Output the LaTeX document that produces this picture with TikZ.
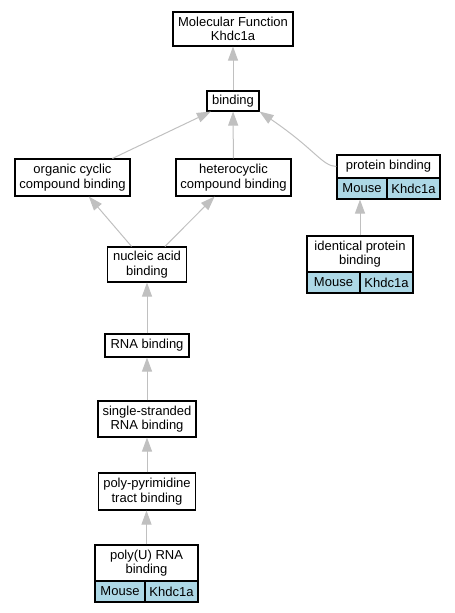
\documentclass[tikz,border=0pt]{standalone}
\usepackage{fontspec}
\setmainfont{Liberation Sans}
\usetikzlibrary{arrows.meta}
\definecolor{edgegray}{HTML}{C0C0C0}
\definecolor{orgblue}{HTML}{ADD8E6}
\tikzset{
        term/.style={draw=black, line width=1.1pt, fill=white, align=center, inner sep=0pt, font=\fontsize{13}{14.5}\selectfont},
        organism/.style={term, fill=orgblue},
        isa/.style={draw=edgegray, line width=1pt, -{Triangle[length=14pt,width=10pt]}}
          }
\begin{document}
\begin{tikzpicture}[x=1pt, y=-1pt]
            \useasboundingbox (0,0) rectangle (455,613);
            % terms
            \node[term, minimum width=120pt, minimum height=34pt] (mf) at (233,29) {Molecular Function\\Khdc1a};
            \node[term, minimum width=52pt, minimum height=20pt] (bind) at (233,101) {binding};
            \node[term, minimum width=115pt, minimum height=37pt] (occb) at (72.5,177.5) {organic cyclic\\compound binding};
            \node[term, minimum width=115pt, minimum height=37pt] (hccb) at (233.5,177.5) {heterocyclic\\compound binding};
            \node[term, minimum width=103pt, minimum height=23pt] (prot) at (388.5,166.5) {protein binding};
            \node[organism, minimum width=50pt, minimum height=21pt] (protm) at (362,188.5) {Mouse};
            \node[organism, minimum width=53pt, minimum height=21pt] (protk) at (413.5,188.5) {Khdc1a};
            \node[term, minimum width=106pt, minimum height=36pt] (ident) at (360,254) {identical protein\\binding};
            \node[organism, minimum width=53pt, minimum height=21pt] (identm) at (333.5,282.5) {Mouse};
            \node[organism, minimum width=53pt, minimum height=21pt] (identk) at (386.5,282.5) {Khdc1a};
            \node[term, minimum width=79pt, minimum height=35pt] (nab) at (147,264.5) {nucleic acid\\binding};
            \node[term, minimum width=84pt, minimum height=23pt] (rna) at (147,345.5) {RNA binding};
            \node[term, minimum width=98pt, minimum height=36pt] (ssrna) at (147,419) {single-stranded\\RNA binding};
            \node[term, minimum width=97pt, minimum height=37pt] (ppt) at (147,491.5) {poly-pyrimidine\\tract binding};
            \node[term, minimum width=103pt, minimum height=36pt] (polyu) at (146.5,563) {poly(U) RNA\\binding};
            \node[organism, minimum width=50pt, minimum height=21pt] (polyum) at (120,591.5) {Mouse};
            \node[organism, minimum width=53pt, minimum height=21pt] (polyuk) at (171.5,591.5) {Khdc1a};
            % is_a edges
            \draw[isa] (bind) -- (mf);
            \draw[isa] (occb) -- (bind);
            \draw[isa] (hccb) -- (bind);
            \draw[isa] (prot.west) .. controls (322,166) and (316,150) .. (bind.south east);
            \draw[isa] (nab) -- (occb);
            \draw[isa] (nab) -- (hccb);
            \draw[isa] (ident.north) -- (ident.north |- protm.south);
            \draw[isa] (rna) -- (nab);
            \draw[isa] (ssrna) -- (rna);
            \draw[isa] (ppt) -- (ssrna);
            \draw[isa] (polyu.north) -- (polyu.north |- ppt.south);
          \end{tikzpicture}
\end{document}
